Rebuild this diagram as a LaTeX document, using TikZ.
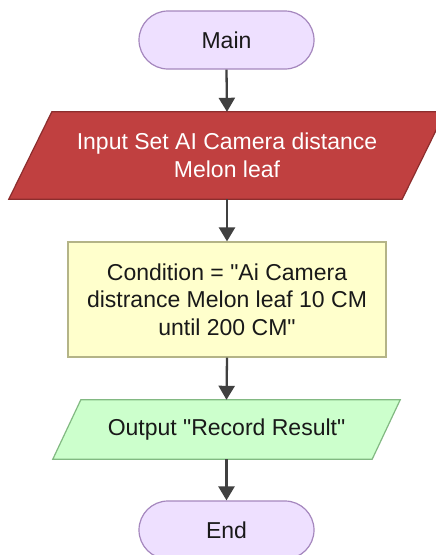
\documentclass[tikz,border=0pt]{standalone}
\usepackage{fontspec}
\setmainfont{Liberation Sans}[Ligatures=TeXOff]
\usetikzlibrary{arrows.meta}

\definecolor{termfill}{RGB}{238,224,255}
\definecolor{termline}{RGB}{165,135,190}
\definecolor{infill}{RGB}{192,64,64}
\definecolor{inline}{RGB}{140,45,45}
\definecolor{condfill}{RGB}{255,255,204}
\definecolor{condline}{RGB}{180,180,135}
\definecolor{outfill}{RGB}{204,255,204}
\definecolor{outline}{RGB}{130,185,130}
\definecolor{flowline}{RGB}{64,64,64}
\definecolor{textdark}{RGB}{25,25,25}

\tikzset{
  base/.style={font=\fontsize{23}{27.5}\selectfont, align=center, inner sep=0pt, text=textdark},
  terminal/.style={base, draw=termline, fill=termfill, line width=1.2pt,
    minimum width=175pt, minimum height=58pt, rounded corners=29pt},
  procbox/.style={base, draw=condline, fill=condfill, line width=1.2pt,
    minimum width=318pt, minimum height=115pt},
  iobox/.style={base, minimum height=#1},
  flow/.style={draw=flowline, line width=2.3pt,
    -{Triangle[width=16pt,length=14pt]}},
}

\begin{document}
\begin{tikzpicture}[x=1pt,y=-1pt]
\useasboundingbox (0,0) rectangle (436,555);
\clip (0,0) rectangle (436,555);
\fill[white] (0,0) rectangle (436,555);

% start terminal
\node[terminal] (main) at (226.5,40) {Main};

% input parallelogram: frame node, slanted outline, then its label
\node[iobox=87pt, minimum width=393pt] (input) at (227,155.5) {};
\filldraw[fill=infill, draw=inline, line width=1.2pt]
  ([xshift=21.5pt]input.north west) -- ([xshift=21.5pt]input.north east)
  -- ([xshift=-21.5pt]input.south east) -- ([xshift=-21.5pt]input.south west) -- cycle;
\node[base, text=white] (inputlabel) at (input.center)
  {Input Set AI Camera distance\\Melon leaf};

% condition process box
\node[procbox] (cond) at (227,299.5)
  {Condition = "Ai Camera\\distrance Melon leaf 10 CM\\until 200 CM"};

% output parallelogram
\node[iobox=59pt, minimum width=319pt] (output) at (226.5,429.5) {};
\filldraw[fill=outfill, draw=outline, line width=1.2pt]
  ([xshift=14pt]output.north west) -- ([xshift=14pt]output.north east)
  -- ([xshift=-14pt]output.south east) -- ([xshift=-14pt]output.south west) -- cycle;
\node[base] (outputlabel) at (output.center) {Output "Record Result"};

% end terminal
\node[terminal] (end) at (226.5,530) {End};

% connectors
\draw[flow] (main.south) -- (input.north);
\draw[flow] (input.south) -- (cond.north);
\draw[flow] (cond.south) -- (output.north);
\draw[flow] (output.south) -- (end.north);
\end{tikzpicture}
\end{document}
